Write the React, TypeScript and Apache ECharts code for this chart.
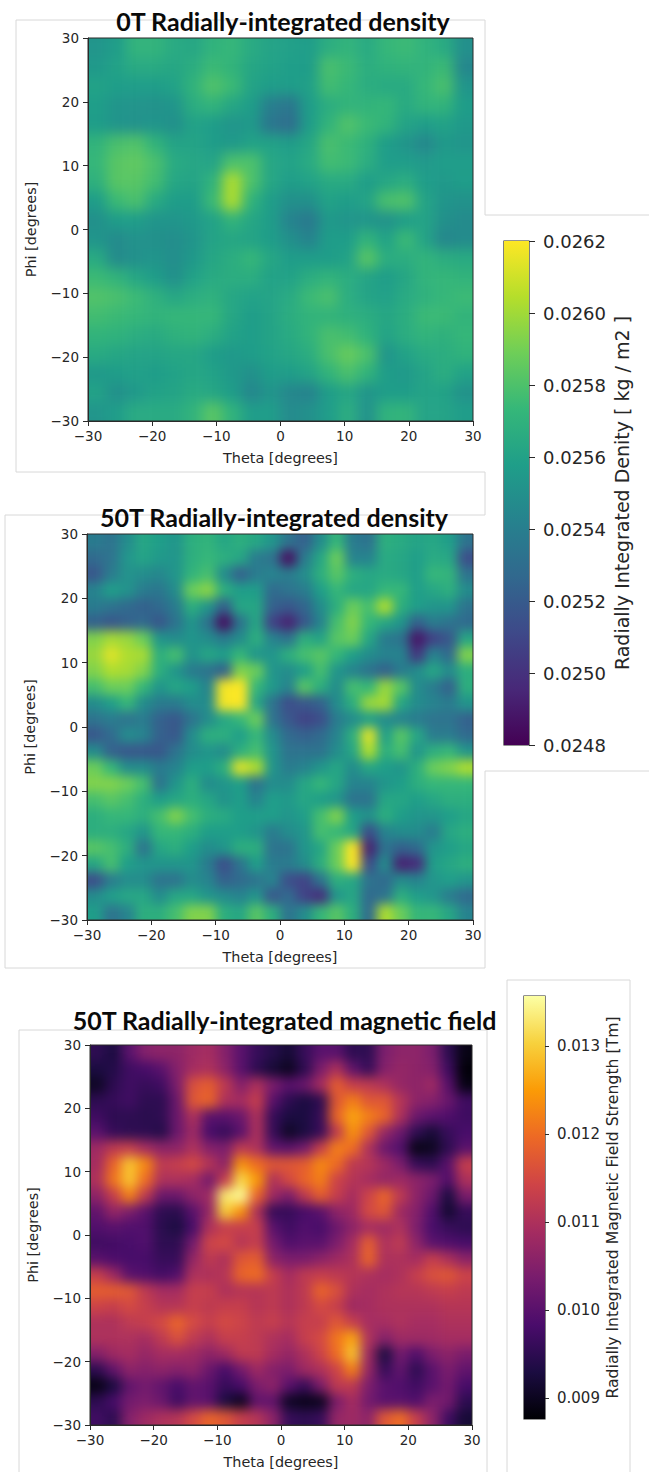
import React, { useEffect, useRef } from "react";
import * as echarts from "echarts";

const viridisStops = ["#440154","#482878","#3e4989","#31688e","#26828e","#1f9e89","#35b779","#6ece58","#b5de2b","#fde725"];
const infernoStops = ["#000004","#1b0c41","#4a0c6b","#781c6d","#a52c60","#cf4446","#ed6925","#fb9b06","#f7d13d","#fcffa4"];

const densityTicks = [0.0248,0.025,0.0252,0.0254,0.0256,0.0258,0.026,0.0262];
const fieldTicks = [0.009,0.01,0.011,0.012,0.013];
const angleTicks = [-30,-20,-10,0,10,20,30];
const densityRange = [0.0248,0.0262];
const fieldRange = [0.00876,0.01357];

// Values in units of 1e-5; rows run from Phi = +30 down to Phi = -30, columns from Theta = -30 to +30.
const density0T = [
[2548,2552,2566,2566,2560,2558,2565,2568,2560,2556,2554,2552,2562,2566,2560,2568,2570,2565,2560,2545],
[2550,2555,2560,2560,2558,2562,2570,2566,2558,2555,2553,2552,2574,2570,2562,2565,2566,2566,2570,2540],
[2555,2553,2552,2552,2555,2566,2576,2570,2556,2552,2552,2554,2572,2568,2562,2560,2560,2568,2574,2548],
[2553,2548,2547,2546,2548,2562,2566,2558,2552,2535,2530,2552,2562,2566,2566,2568,2560,2566,2566,2552],
[2552,2548,2546,2548,2545,2555,2552,2548,2550,2530,2525,2552,2566,2576,2570,2566,2556,2552,2555,2550],
[2566,2574,2576,2566,2556,2556,2552,2550,2555,2555,2552,2558,2574,2570,2564,2552,2548,2540,2550,2548],
[2568,2578,2580,2574,2560,2558,2556,2575,2575,2558,2555,2560,2572,2570,2562,2552,2552,2550,2552,2552],
[2564,2578,2578,2572,2558,2556,2565,2598,2575,2558,2552,2555,2560,2560,2552,2558,2562,2552,2550,2552],
[2552,2570,2574,2560,2552,2552,2570,2598,2565,2552,2545,2545,2555,2552,2556,2574,2576,2556,2548,2546],
[2545,2552,2552,2548,2548,2550,2555,2566,2558,2552,2538,2532,2550,2548,2548,2546,2552,2556,2545,2542],
[2548,2542,2546,2545,2544,2548,2556,2558,2556,2552,2545,2538,2552,2552,2566,2555,2570,2556,2540,2542],
[2560,2542,2545,2548,2544,2550,2558,2562,2568,2558,2552,2552,2552,2555,2578,2562,2562,2566,2562,2560],
[2570,2566,2558,2552,2545,2555,2560,2562,2562,2555,2555,2562,2566,2562,2556,2552,2558,2566,2568,2566],
[2576,2574,2570,2564,2558,2562,2564,2558,2555,2556,2560,2570,2574,2562,2556,2554,2560,2564,2568,2570],
[2572,2570,2568,2566,2568,2568,2568,2558,2552,2556,2562,2566,2566,2564,2562,2558,2562,2570,2570,2566],
[2566,2565,2562,2560,2564,2566,2562,2555,2552,2556,2560,2566,2574,2572,2565,2556,2562,2566,2564,2568],
[2560,2558,2556,2556,2558,2558,2552,2550,2552,2555,2558,2562,2574,2582,2575,2548,2555,2560,2562,2565],
[2550,2552,2554,2552,2555,2558,2555,2550,2545,2552,2552,2556,2566,2574,2566,2552,2550,2556,2562,2555],
[2555,2545,2550,2555,2556,2560,2558,2552,2540,2548,2540,2538,2552,2558,2548,2552,2552,2556,2555,2546],
[2548,2552,2560,2560,2560,2566,2578,2565,2552,2552,2542,2545,2552,2562,2546,2565,2566,2556,2556,2552],
];

const density50T = [
[2535,2530,2545,2560,2555,2550,2565,2568,2560,2565,2560,2550,2530,2520,2545,2570,2535,2530,2565,2562,2558,2560,2555,2530],
[2525,2530,2550,2558,2552,2550,2565,2570,2565,2560,2535,2530,2482,2535,2560,2585,2540,2540,2562,2560,2555,2562,2560,2510],
[2515,2535,2548,2545,2542,2550,2568,2575,2545,2520,2535,2540,2535,2545,2565,2580,2565,2560,2562,2560,2555,2570,2568,2530],
[2540,2555,2548,2535,2532,2545,2585,2592,2565,2555,2555,2525,2530,2535,2555,2570,2560,2560,2570,2570,2555,2560,2565,2545],
[2535,2530,2525,2520,2525,2535,2565,2550,2520,2560,2560,2520,2515,2522,2545,2565,2585,2575,2600,2565,2555,2550,2550,2530],
[2520,2515,2520,2525,2515,2530,2550,2530,2482,2530,2560,2505,2490,2515,2540,2575,2590,2570,2560,2550,2520,2535,2530,2525],
[2590,2598,2595,2585,2550,2545,2550,2545,2535,2545,2565,2540,2530,2565,2558,2580,2585,2560,2535,2530,2485,2505,2515,2560],
[2595,2610,2600,2598,2565,2575,2548,2560,2555,2570,2550,2550,2565,2575,2580,2570,2555,2545,2540,2540,2500,2540,2525,2590],
[2590,2600,2598,2590,2565,2550,2535,2530,2520,2590,2585,2550,2545,2555,2575,2550,2540,2530,2520,2535,2545,2560,2545,2565],
[2575,2585,2585,2570,2550,2560,2555,2540,2615,2620,2570,2552,2540,2580,2565,2545,2575,2570,2595,2580,2545,2535,2520,2565],
[2545,2555,2570,2545,2535,2535,2545,2545,2615,2620,2560,2530,2510,2515,2520,2545,2565,2595,2598,2560,2545,2540,2535,2550],
[2530,2535,2530,2535,2520,2515,2530,2545,2560,2570,2585,2530,2515,2505,2510,2535,2545,2555,2545,2540,2535,2530,2530,2520],
[2515,2525,2545,2540,2520,2515,2545,2565,2565,2555,2570,2545,2525,2520,2525,2540,2565,2610,2555,2580,2560,2535,2535,2525],
[2545,2520,2515,2515,2515,2530,2545,2550,2545,2565,2575,2550,2530,2530,2530,2545,2560,2600,2565,2575,2550,2565,2570,2550],
[2585,2570,2545,2545,2535,2540,2555,2555,2565,2610,2600,2550,2535,2540,2550,2560,2545,2560,2555,2550,2565,2585,2590,2600],
[2590,2590,2585,2575,2530,2550,2565,2545,2550,2555,2530,2545,2545,2560,2570,2560,2540,2540,2550,2555,2565,2570,2570,2570],
[2575,2580,2575,2565,2555,2560,2565,2560,2548,2555,2540,2555,2552,2560,2555,2550,2530,2530,2560,2560,2555,2560,2565,2565],
[2565,2570,2570,2565,2575,2590,2575,2565,2562,2555,2555,2555,2550,2555,2575,2590,2555,2548,2565,2555,2550,2550,2555,2560],
[2565,2565,2560,2550,2570,2570,2565,2555,2555,2555,2550,2535,2545,2550,2575,2570,2560,2510,2540,2545,2545,2535,2560,2565],
[2580,2575,2565,2530,2560,2565,2555,2545,2550,2565,2565,2530,2530,2550,2560,2585,2620,2490,2530,2520,2525,2550,2555,2560],
[2560,2575,2555,2550,2550,2550,2550,2535,2510,2530,2555,2535,2535,2545,2565,2585,2620,2510,2545,2490,2495,2555,2560,2565],
[2510,2535,2545,2545,2530,2530,2545,2540,2520,2525,2530,2540,2510,2505,2530,2565,2560,2530,2525,2545,2540,2550,2555,2550],
[2545,2555,2560,2560,2545,2560,2560,2550,2545,2540,2550,2515,2525,2505,2495,2550,2560,2525,2530,2565,2555,2550,2535,2525],
[2555,2530,2540,2565,2565,2575,2590,2590,2565,2560,2580,2565,2530,2545,2570,2580,2565,2525,2600,2585,2570,2570,2560,2540],
];

const field50T = [
[950,930,1000,1050,1060,1060,1080,1090,1050,1000,960,940,920,960,1000,1000,950,950,1040,1060,1060,1040,950,890],
[930,940,970,980,1000,1050,1090,1100,1060,1000,950,920,900,950,1040,1100,1010,960,1050,1070,1060,1050,970,880],
[905,950,970,960,970,1040,1160,1180,1120,1050,1100,1040,1000,1020,1090,1180,1130,1120,1100,1070,1060,1080,1000,890],
[950,960,970,950,950,1020,1170,1190,1100,1090,1130,1000,950,930,950,1170,1220,1170,1170,1110,1060,1050,1020,970],
[970,950,950,945,950,1020,1100,1000,1000,1020,1100,960,930,930,960,1190,1260,1220,1190,1100,1020,1000,990,970],
[1000,960,950,950,940,1020,1080,980,960,1000,1100,960,905,930,960,1120,1240,1170,1070,1020,950,920,960,980],
[1080,1120,1130,1090,1060,1060,1100,1050,1040,1120,1100,1010,1000,1030,1130,1220,1200,1100,1020,990,890,900,950,1000],
[1090,1190,1290,1230,1120,1130,1150,1110,1060,1240,1200,1170,1170,1180,1230,1200,1120,1110,1080,1040,960,950,1000,1130],
[1100,1210,1290,1200,1100,1100,1090,1030,1130,1310,1250,1100,1150,1190,1220,1140,1110,1090,1070,1080,1060,1040,990,1100],
[1060,1130,1220,1120,1020,1020,1060,1080,1330,1350,1190,1080,1040,1120,1180,1130,1090,1140,1190,1120,1060,1020,930,1040],
[1010,1070,1040,1000,950,945,1000,1070,1300,1240,1100,960,960,980,1000,1060,1080,1150,1170,1080,1050,990,915,960],
[990,1000,990,990,945,930,980,1100,1130,1130,1130,1000,970,990,980,1020,1060,1090,1080,1100,1040,980,960,950],
[970,975,980,990,950,950,1030,1140,1150,1110,1130,1030,990,1000,1000,1040,1090,1180,1100,1120,1060,1000,990,980],
[1000,985,980,980,960,960,1070,1120,1100,1170,1180,1060,1040,1040,1060,1080,1100,1190,1100,1100,1090,1130,1100,1060],
[1130,1080,1000,990,975,990,1100,1100,1110,1190,1200,1130,1090,1120,1130,1120,1110,1100,1090,1100,1130,1160,1170,1140],
[1180,1180,1170,1120,1090,1090,1130,1130,1100,1110,1110,1120,1100,1120,1190,1160,1100,1090,1100,1110,1110,1120,1130,1120],
[1140,1130,1150,1130,1110,1110,1130,1120,1130,1130,1110,1120,1100,1120,1150,1130,1080,1090,1100,1100,1100,1100,1110,1110],
[1100,1100,1120,1130,1150,1190,1150,1130,1150,1140,1120,1130,1110,1130,1130,1170,1130,1090,1090,1100,1090,1090,1100,1100],
[1100,1100,1100,1090,1120,1160,1120,1100,1130,1130,1120,1100,1090,1130,1150,1210,1260,1100,1050,1080,1080,1080,1090,1090],
[1050,1080,1090,1070,1090,1090,1080,1060,1080,1120,1120,1090,1070,1100,1140,1200,1290,1080,930,1030,990,1040,1060,1040],
[950,1010,1060,1050,1060,1050,1060,1020,980,1030,1080,1050,1040,1080,1100,1140,1220,1070,960,1010,950,1000,1040,1010],
[890,930,1010,1030,1010,980,1010,1000,960,980,1040,1060,1000,960,1040,1120,1120,1040,1000,990,970,1000,1030,980],
[950,980,1030,1040,1020,970,1010,1000,930,900,1010,1010,905,895,900,1040,1090,1030,1000,1000,990,1040,1030,950],
[970,950,1050,1080,1100,1110,1150,1190,1170,1130,1110,1060,960,950,960,1070,1080,1060,1170,1200,1130,1060,970,920],
];

const panels = [
  { rows: density0T, offset: 5, range: densityRange, stops: viridisStops, left: 88, top: 38, width: 385, height: 383, blur: 6.5 },
  { rows: density50T, offset: 3, range: densityRange, stops: viridisStops, left: 87, top: 534, width: 386, height: 386, blur: 5.5 },
  { rows: field50T, offset: 0, range: fieldRange, stops: infernoStops, left: 90, top: 1045, width: 382, height: 380, blur: 6 },
];

const PAD = 3;

function heatOption(p: any) {
  const n = p.rows.length;
  const m = p.rows[0].length;
  const data: number[][] = [];
  for (let r = -PAD; r < n + PAD; r++) {
    const row = p.rows[Math.min(n - 1, Math.max(0, r))];
    for (let c = -PAD; c < m + PAD; c++) {
      const v = Math.min(p.range[1], (row[Math.min(m - 1, Math.max(0, c))] + p.offset) * 1e-5);
      data.push([c + PAD, n - 1 - r + PAD, v]);
    }
  }
  const xs = Array.from({ length: m + 2 * PAD }, (_, i) => String(i));
  const ys = Array.from({ length: n + 2 * PAD }, (_, i) => String(i));
  return {
    animation: false,
    grid: { left: 0, right: 0, top: 0, bottom: 0 },
    xAxis: { type: "category", data: xs, show: false },
    yAxis: { type: "category", data: ys, show: false },
    visualMap: { show: false, min: p.range[0], max: p.range[1], inRange: { color: p.stops }, seriesIndex: 0 },
    series: [{ type: "heatmap", data, silent: true, progressive: 0, itemStyle: { borderWidth: 0 } }],
  };
}

const frameColor = "#d8d8d8";
const frameSegments = [
  [16,20,485,20],[16,20,16,472],[16,472,485,472],[485,20,485,215],[485,215,649,215],
  [485,472,485,515],[5,515,485,515],[5,515,5,968],[5,968,485,968],[485,771,485,968],[485,771,649,771],
  [19,1030,487,1030],[19,1030,19,1472],[487,1030,487,1472],
  [507,980,630,980],[507,980,507,1472],[630,980,630,1472],
];

const tickText = "#262626";
const fontFamily = "DejaVu Sans";

function overlayOption() {
  const grids: any[] = panels.map((p) => ({
    left: p.left, top: p.top, width: p.width, height: p.height,
    show: true, borderColor: "#2a2a2a", borderWidth: 1, backgroundColor: "transparent",
  }));
  const xAxes: any[] = panels.map((_, i) => ({
    type: "value", gridIndex: i, min: angleTicks[0], max: angleTicks[6], interval: 10,
    name: "Theta [degrees]", nameLocation: "middle", nameGap: 30,
    nameTextStyle: { fontFamily, fontSize: 14.4, color: tickText },
    axisLine: { show: true, onZero: false, lineStyle: { color: "#2a2a2a" } },
    axisTick: { show: true, length: 5, lineStyle: { color: "#2a2a2a" } },
    axisLabel: { fontFamily, fontSize: 13.5, color: tickText, margin: 8, formatter: (v: number) => String(v).replace("-", "\u2212") },
    splitLine: { show: false },
  }));
  const yAxes: any[] = panels.map((_, i) => ({
    type: "value", gridIndex: i, min: angleTicks[0], max: angleTicks[6], interval: 10,
    name: "Phi [degrees]", nameLocation: "middle", nameGap: 50,
    nameTextStyle: { fontFamily, fontSize: 14.4, color: tickText },
    axisLine: { show: true, onZero: false, lineStyle: { color: "#2a2a2a" } },
    axisTick: { show: true, length: 5, lineStyle: { color: "#2a2a2a" } },
    axisLabel: { fontFamily, fontSize: 13.5, color: tickText, margin: 9, formatter: (v: number) => String(v).replace("-", "\u2212") },
    splitLine: { show: false },
  }));

  const bars = [
    { left: 504, top: 241, width: 25, height: 504, range: densityRange, ticks: densityTicks, stops: viridisStops, digits: 4, fontSize: 18, name: "Radially Integrated Denity [ kg / m2 ]", nameSize: 19, nameGap: 83, tick: 6, margin: 14 },
    { left: 524, top: 996, width: 21, height: 423, range: fieldRange, ticks: fieldTicks, stops: infernoStops, digits: 3, fontSize: 15, name: "Radially Integrated Magnetic Field Strength [Tm]", nameSize: 15.7, nameGap: 59, tick: 4, margin: 12 },
  ];
  const series: any[] = [];
  bars.forEach((b, k) => {
    const g = panels.length + k;
    grids.push({ left: b.left, top: b.top, width: b.width, height: b.height, show: true, borderColor: "#2a2a2a", borderWidth: 1.2, backgroundColor: "transparent" });
    xAxes.push({ type: "category", gridIndex: g, data: ["scale"], show: false });
    yAxes.push({
      type: "value", gridIndex: g, position: "right", min: b.range[0], max: b.range[1],
      name: b.name, nameLocation: "middle", nameGap: b.nameGap, nameRotate: 90,
      nameTextStyle: { fontFamily, fontSize: b.nameSize, color: tickText },
      axisLine: { show: false },
      axisTick: { show: true, length: b.tick, customValues: b.ticks, lineStyle: { color: "#2a2a2a" } },
      axisLabel: { fontFamily, fontSize: b.fontSize, color: tickText, margin: b.margin, customValues: b.ticks, formatter: (v: number) => v.toFixed(b.digits) },
      splitLine: { show: false },
    });
    const n = b.stops.length;
    series.push({
      type: "bar", xAxisIndex: g, yAxisIndex: g, data: [b.range[1]], barWidth: "100%", silent: true,
      itemStyle: {
        color: new echarts.graphic.LinearGradient(0, 1, 0, 0, b.stops.map((c, i) => ({ offset: i / (n - 1), color: c }))),
      },
    });
  });

  const titleStyle = { fontFamily: "Lato", fontWeight: "bold" as const, color: "#0a0a0a", fontSize: 25 };
  return {
    animation: false,
    title: [
      { text: "0T Radially-integrated density", left: 278, top: 3, textAlign: "center", textStyle: titleStyle },
      { text: "50T Radially-integrated density", left: 269, top: 499, textAlign: "center", textStyle: titleStyle },
      { text: "50T Radially-integrated magnetic field", left: 279.5, top: 1002, textAlign: "center", textStyle: titleStyle },
    ],
    grid: grids, xAxis: xAxes, yAxis: yAxes, series,
    graphic: frameSegments.map(([x1, y1, x2, y2]) => ({
      type: "line", silent: true, z: -1, shape: { x1, y1, x2, y2 }, style: { stroke: frameColor, lineWidth: 1 },
    })),
  };
}

function HeatLayer({ p }: { p: any }) {
  const ref = useRef<HTMLDivElement>(null);
  const cw = p.width / p.rows[0].length;
  const ch = p.height / p.rows.length;
  useEffect(() => {
    const chart = echarts.init(ref.current!, undefined, { renderer: "svg" });
    chart.setOption(heatOption(p));
    return () => chart.dispose();
  }, [p]);
  return (
    <div style={{ position: "absolute", left: p.left, top: p.top, width: p.width, height: p.height, overflow: "hidden" }}>
      <div
        ref={ref}
        style={{
          position: "absolute", left: -PAD * cw, top: -PAD * ch,
          width: p.width + 2 * PAD * cw, height: p.height + 2 * PAD * ch,
          filter: `blur(${p.blur}px)`,
        }}
      />
    </div>
  );
}

export default function App() {
  const ref = useRef<HTMLDivElement>(null);
  useEffect(() => {
    const chart = echarts.init(ref.current!, undefined, { renderer: "svg" });
    chart.setOption(overlayOption());
    return () => chart.dispose();
  }, []);
  return (
    <div style={{ position: "absolute", left: 0, top: 0, width: 649, height: 1472, background: "#fff", overflow: "hidden" }}>
      {panels.map((p, i) => <HeatLayer key={i} p={p} />)}
      <div ref={ref} style={{ position: "absolute", left: 0, top: 0, width: 649, height: 1472 }} />
    </div>
  );
}
